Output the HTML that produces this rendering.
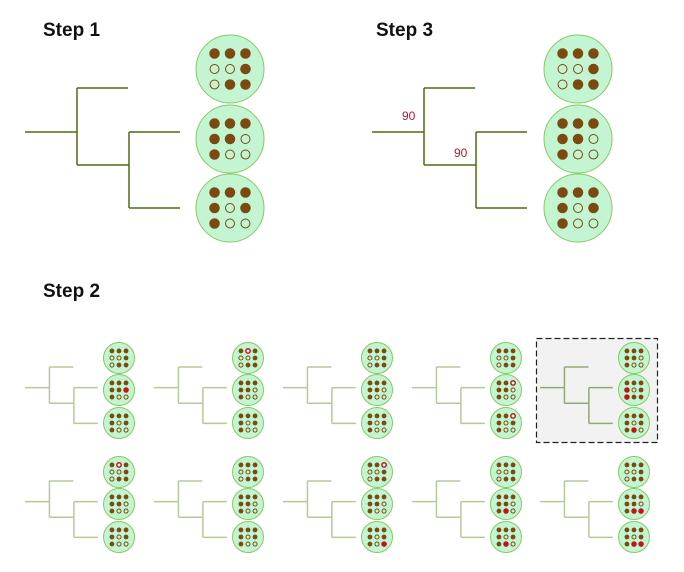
<!DOCTYPE html>
<html><head><meta charset="utf-8"><style>
body{margin:0;background:#fff}
svg{display:block;font-family:"Liberation Sans",sans-serif}
</style></head><body>
<svg id="c" width="684" height="572" viewBox="0 0 684 572"></svg>
<script>
const NS="http://www.w3.org/2000/svg";
const svg=document.getElementById('c');
// base patterns for the three taxa (1=filled, 0=open)
const patternA=[[1,1,1],[0,0,1],[0,1,1]];
const patternB=[[1,1,1],[1,1,0],[1,0,0]];
const patternC=[[1,1,1],[1,0,1],[1,0,0]];
// step-2 panel modifications: [circleIdx,row,col,type] type f=red filled, r=red ring
const panelMods=[
 [[1,1,2,'f']],
 [[0,0,1,'r']],
 [],
 [[1,0,2,'r'],[2,0,2,'r']],
 [[1,1,0,'f'],[1,2,0,'f'],[2,2,1,'f']],
 [[0,0,1,'r']],
 [],
 [[0,0,2,'r'],[2,2,2,'f']],
 [[1,2,1,'f'],[2,2,1,'f']],
 [[1,2,1,'f'],[1,2,2,'f'],[2,2,1,'f'],[2,2,2,'f']]
];
// panel 5 (highlighted) has a different top pattern
const panel5Top=[[1,1,1],[1,1,0],[1,0,0]];
const panel5Mid=[[1,1,1],[1,0,1],[1,1,1]];

function el(tag,attrs,name,parent){const e=document.createElementNS(NS,tag);for(const k in attrs)e.setAttribute(k,attrs[k]);


(parent||svg).appendChild(e);return e;}
function text(x,y,s,size,weight,fill,name){const t=el('text',{x:x,y:y,'font-size':size,'font-weight':weight,fill:fill},name);t.textContent=s;return t;}

function tree(x0,y0,s,color,w,name){
 const g=el('g',{stroke:color,'stroke-width':w,fill:'none'},name);
 const L=(a,b,c,d)=>el('line',{x1:x0+a*s,y1:y0+b*s,x2:x0+c*s,y2:y0+d*s},'tree-branch',g);
 L(0,44,52,44);L(52,0,52,77);L(52,0,103,0);L(52,77,104,77);
 L(104,44,104,120);L(104,44,155,44);L(104,120,155,120);
 return g;
}
function taxon(cx,cy,r,pat,mods,name){
 const g=el('g',{},name);
 el('circle',{cx:cx,cy:cy,r:r,fill:'#c4f5d2',stroke:'#86c962','stroke-width':1},'taxon-circle',g);
 const sp=r*0.455, dr=r*0.155;
 for(let i=0;i<3;i++)for(let j=0;j<3;j++){
  let m=(mods||[]).find(q=>q[0]===i&&q[1]===j);
  const x=cx+(j-1)*sp,y=cy+(i-1)*sp;
  if(m&&m[2]==='f')el('circle',{cx:x,cy:y,r:dr*1.15,fill:'#c0141c'},'character-changed',g);
  else if(m&&m[2]==='r')el('circle',{cx:x,cy:y,r:dr*0.9,fill:'#fff',stroke:'#c0141c','stroke-width':1.5},'character-changed',g);
  else if(pat[i][j])el('circle',{cx:x,cy:y,r:dr,fill:'#7a4a10'},'character-filled',g);
  else el('circle',{cx:x,cy:y,r:dr*0.85,fill:'none',stroke:'#7a4a10','stroke-width':1},'character-open',g);
 }
}
// Step 1
text(43,36,'Step 1',19,'bold','#111','step1-title');
tree(25,88,1,'#4a6e10',1.5,'step1-tree');
taxon(230,69,34,patternA,null,'step1-taxon-a');
taxon(230,139,34,patternB,null,'step1-taxon-b');
taxon(230,208,34,patternC,null,'step1-taxon-c');
// Step 3
text(376,36,'Step 3',19,'bold','#111','step3-title');
tree(372,88,1,'#4a6e10',1.5,'step3-tree');
text(402,120,'90',12,'normal','#b01a2a','bootstrap-label-root');
text(454,157,'90',12,'normal','#b01a2a','bootstrap-label-inner');
taxon(578,69,34,patternA,null,'step3-taxon-a');
taxon(578,139,34,patternB,null,'step3-taxon-b');
taxon(578,208,34,patternC,null,'step3-taxon-c');
// Step 2
text(43,297,'Step 2',19,'bold','#111','step2-title');
el('rect',{x:536.5,y:338.5,width:121,height:104,fill:'#f2f2f2',stroke:'#222','stroke-dasharray':'6 3','stroke-width':1.2},'selected-panel-box');
const colX=[25,154,283,412,540];
const rowY=[358,472];
for(let r=0;r<2;r++)for(let c=0;c<5;c++){
 const idx=c===4?(r===0?7:9):(r===0?[0,1,2,3][c]:[5,6,7,8][c]);
 let k=r*5+c;
 const order=[0,1,2,3,4,5,6,7,8,9];
 const mods=[panelMods[0],panelMods[1],panelMods[2],panelMods[3],panelMods[4],panelMods[5],panelMods[6],panelMods[7],panelMods[8],panelMods[9]][k];
 const x=colX[c], y=rowY[r];
 tree(x,y+9,0.47,k===4?'#93ab70':'#b6c99a',1.5,'step2-tree-'+(k+1));
 const pa=k===4?panel5Top:patternA, pb=k===4?panel5Mid:patternB;
 taxon(x+94,y,15.5,pa,mods.filter(m=>m[0]===0).map(m=>[m[1],m[2],m[3]]),'step2-taxon-a-'+(k+1));
 taxon(x+94,y+32,15.5,pb,mods.filter(m=>m[0]===1).map(m=>[m[1],m[2],m[3]]),'step2-taxon-b-'+(k+1));
 taxon(x+94,y+65,15.5,patternC,mods.filter(m=>m[0]===2).map(m=>[m[1],m[2],m[3]]),'step2-taxon-c-'+(k+1));
}
</script>
</body></html>
